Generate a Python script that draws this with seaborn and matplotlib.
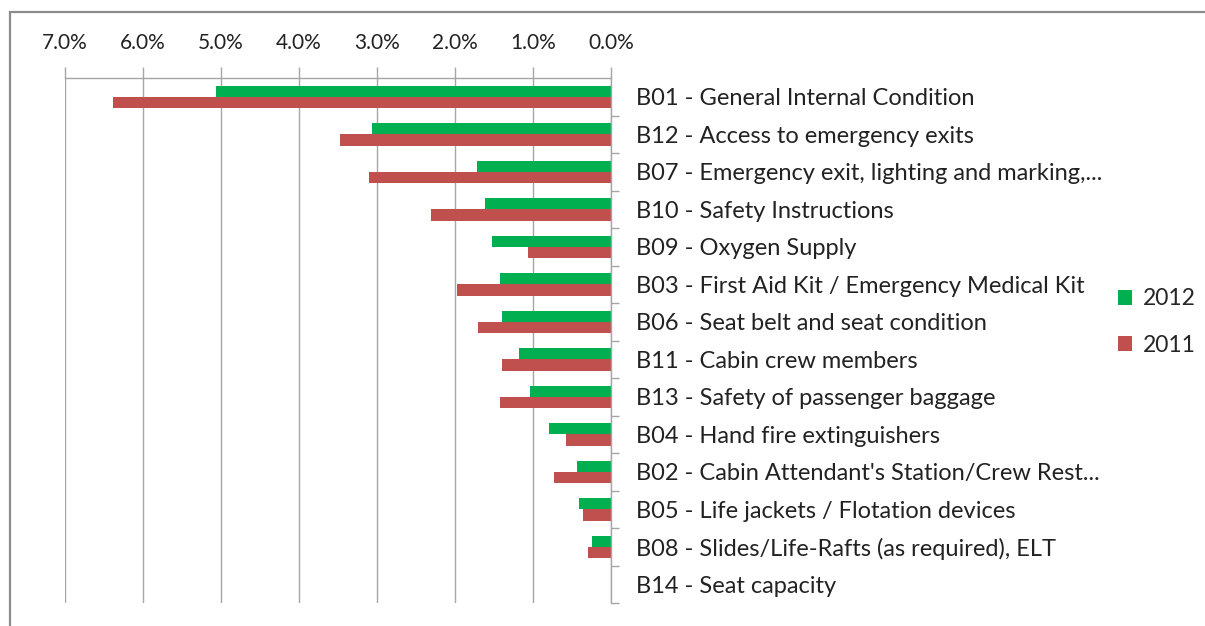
import matplotlib
matplotlib.use("Agg")
import matplotlib.pyplot as plt
from matplotlib.patches import Rectangle
from matplotlib.ticker import FuncFormatter, FixedLocator
import numpy as np
import pandas as pd
import seaborn as sns

sns.set_style("white")
plt.rcParams['font.family'] = ['Lato', 'DejaVu Sans']

categories = [
    "B01 - General Internal Condition",
    "B12 - Access to emergency exits",
    "B07 - Emergency exit, lighting and marking,...",
    "B10 - Safety Instructions",
    "B09 - Oxygen Supply",
    "B03 - First Aid Kit / Emergency Medical Kit",
    "B06 - Seat belt and seat condition",
    "B11 - Cabin crew members",
    "B13 - Safety of passenger baggage",
    "B04 - Hand fire extinguishers",
    "B02 - Cabin Attendant's Station/Crew Rest...",
    "B05 - Life jackets / Flotation devices",
    "B08 - Slides/Life-Rafts (as required), ELT",
    "B14 - Seat capacity",
]
y2012 = [5.06, 3.07, 1.72, 1.62, 1.53, 1.42, 1.40, 1.18, 1.04, 0.79, 0.43, 0.41, 0.25, 0.0]
y2011 = [6.38, 3.48, 3.10, 2.31, 1.06, 1.97, 1.70, 1.40, 1.42, 0.58, 0.73, 0.36, 0.30, 0.0]
years = ["2012", "2011"]
colors = ["#00B050", "#C0504D"]

df = pd.DataFrame({
    "category": categories * 2,
    "value": y2012 + y2011,
    "year": ["2012"] * len(categories) + ["2011"] * len(categories),
})

fig = plt.figure(figsize=(12.05, 6.26), dpi=100)
ax = fig.add_axes([65 / 1205, 1 - 603 / 626, (611 - 65) / 1205, (603 - 78) / 626])

sns.barplot(data=df, y="category", x="value", hue="year", hue_order=years,
            palette=colors, orient="h", width=0.6, saturation=1, linewidth=0,
            ax=ax, legend=True)

ax.set_xlim(7, 0)
ax.set_ylim(len(categories) - 0.5, -0.5)
ax.xaxis.set_major_locator(FixedLocator(np.arange(0, 7.01, 1)))
ax.xaxis.set_major_formatter(FuncFormatter(lambda v, p: f"{v:.1f}%"))
ax.xaxis.tick_top()
ax.yaxis.tick_right()
ax.set_xlabel("")
ax.set_ylabel("")

ax.grid(axis="x", color="#A6A6A6", linewidth=1)
ax.set_axisbelow(True)
for s in ["left", "bottom"]:
    ax.spines[s].set_visible(False)
for s in ["top", "right"]:
    ax.spines[s].set_visible(True)
    ax.spines[s].set_color("#A6A6A6")
    ax.spines[s].set_linewidth(1)

ax.tick_params(axis="x", which="major", direction="out", length=8, color="#A6A6A6",
               width=1, labelsize=15, pad=10, colors="#A6A6A6", labelcolor="#222222")
ax.set_yticks(np.arange(len(categories)))
ax.set_yticks(np.arange(len(categories)) + 0.5, minor=True)
ax.tick_params(axis="y", which="major", length=0, labelsize=17, pad=18, labelcolor="#222222")
ax.tick_params(axis="y", which="minor", length=6, color="#A6A6A6", width=1, direction="out")

handles, labels = ax.get_legend_handles_labels()
ax.legend(handles, labels, loc="center left", bbox_to_anchor=(1109 / 1205, 1 - 322 / 626),
          bbox_transform=fig.transFigure, frameon=False, fontsize=16.5,
          handlelength=0.6, handleheight=0.6, handletextpad=0.5, labelspacing=1.1,
          borderaxespad=0)

# outer chart border: only the top and left edges fall inside the image
fig.patches.append(Rectangle((10 / 1205, -0.2), 1.5, 1.2 - 12 / 626,
                             transform=fig.transFigure, fill=False,
                             edgecolor="#8C8C8C", linewidth=1.6))

fig.savefig("out.png", dpi=100, facecolor="white")
